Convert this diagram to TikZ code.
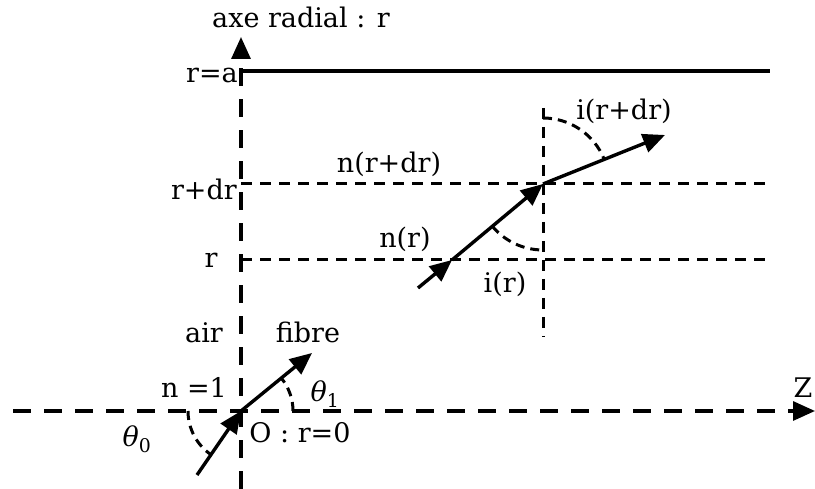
\documentclass[tikz,border=0pt]{standalone}
\usepackage{fontspec}
\setmainfont{DejaVu Serif}
\usetikzlibrary{arrows.meta,calc}

\begin{document}
\begin{tikzpicture}[
  x=1pt, y=1pt,
  font=\fontsize{27}{31}\selectfont,
  >={Triangle[length=22pt,width=19pt]},
  axis/.style={line width=3.2pt, dash pattern=on 18pt off 13pt},
  layer/.style={line width=3pt, dash pattern=on 11pt off 8pt},
  wall/.style={line width=3.4pt},
  ray/.style={->, line width=3.4pt},
  angarc/.style={line width=3pt, dash pattern=on 9pt off 6pt},
  lbl/.style={inner sep=0pt, anchor=base}
]
\useasboundingbox (0,0) rectangle (815,489);
\def\rad{66}

% axes
\coordinate (O) at (241,78);
\coordinate (Rbot) at (241,0);
\coordinate (Rtop) at (241,452);
\coordinate (Zl) at (13,78);
\coordinate (Zr) at (815,78);
\draw[axis,->] (Rbot) -- (Rtop);
\draw[axis,->] (Zl) -- (Zr);
\node[lbl] (axr) at (301,461) {axe radial : r};
\node[lbl] (zlab) at (803,91) {Z};

% fibre layers
\coordinate (A0) at (241,418);
\coordinate (A1) at (770,418);
\coordinate (D0) at (241,305);
\coordinate (D1) at (770,305);
\coordinate (L0) at (241,229);
\coordinate (L1) at (770,229);
\coordinate (N0) at (543,381);
\coordinate (N1) at (543,152);
\draw[wall] (A0) -- (A1);
\draw[layer] (D0) -- (D1);
\draw[layer] (L0) -- (L1);
\draw[layer] (N0) -- (N1);
\node[lbl, anchor=base east] (ra) at (238,406) {r=a};
\node[lbl, anchor=base east] (rdr) at (237,289) {r+dr};
\node[lbl] (rr) at (211,221) {r};
\node[lbl] (nrdr) at (389,316) {n(r+dr)};
\node[lbl] (nr) at (405,241) {n(r)};

% ray through the layer
\coordinate (S) at (418,201);
\coordinate (M) at (452,229);
\coordinate (P) at (543,305);
\coordinate (E) at (665,354);
\draw[ray] (S) -- (M);
\draw[ray] (M) -- (P);
\draw[ray] (P) -- (E);
\draw[angarc] ($(P)+(219.8:\rad)$) arc[start angle=219.8, end angle=270, radius=\rad];
\draw[angarc] ($(P)+(90:\rad)$) arc[start angle=90, end angle=21.9, radius=\rad];
\node[lbl] (ir) at (505,196) {i(r)};
\node[lbl] (irdr) at (624,369) {i(r+dr)};

% entrance face
\coordinate (B) at (197,14);
\coordinate (F) at (312,136);
\draw[ray] (B) -- (O);
\draw[ray] (O) -- (F);
\draw[angarc] ($(O)+(180:53)$) arc[start angle=180, end angle=235.5, radius=53];
\draw[angarc] ($(O)+(0:52)$) arc[start angle=0, end angle=39.2, radius=52];
\node[lbl] (air) at (204,146) {air};
\node[lbl] (fib) at (308,146) {fibre};
\node[lbl] (n1) at (194,91) {n =1};
\node[lbl] (th1) at (325,87) {\textit{θ}\textsubscript{1}};
\node[lbl] (th0) at (137,42) {\textit{θ}\textsubscript{0}};
\node[lbl] (Olab) at (300,46) {O : r=0};

\end{tikzpicture}
\end{document}
